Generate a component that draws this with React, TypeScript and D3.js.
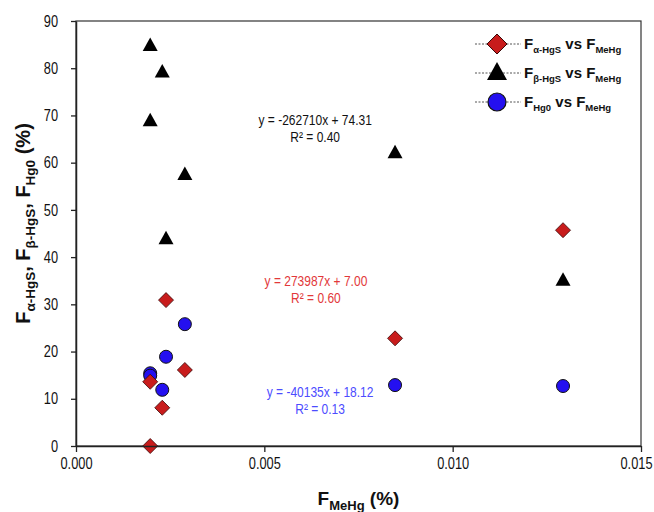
import { useEffect, useRef } from "react";
import * as d3 from "d3";

const WIDTH = 654;
const HEIGHT = 512;
const MARGIN = { top: 21, right: 13, bottom: 66, left: 76 };

// F_MeHg (%) for each sample, shared by all three series
const fMeHg = [0.00197, 0.00197, 0.00229, 0.00239, 0.00289, 0.00847, 0.01293];
const fAlpha = [0, 13.6, 8.1, 30.9, 16.1, 22.8, 45.7];
const fBeta = [84.9, 69.0, 79.3, 44.0, 57.6, 62.2, 35.2];
const fHg0 = [15.4, 14.9, 11.9, 18.9, 25.8, 12.9, 12.7];

// trend line coefficients as printed on the chart
const slopes = [273987, -262710, -40135];
const intercepts = [7.0, 74.31, 18.12];
const eqLabels = ["y = 273987x  + 7.00", "y = -262710x  + 74.31", "y = -40135x  + 18.12"];
const r2Labels = ["R² = 0.60", "R² = 0.40", "R² = 0.13"];

const xTicks = [0, 0.005, 0.01, 0.015];
const yTicks = [0, 10, 20, 30, 40, 50, 60, 70, 80, 90];

const FONT = "'Liberation Sans', Arial, sans-serif";
const SQUEEZE = 0.8; // reference uses a narrow face

const RED = "#c81c1c";
const BLUE = "#2410f0";

const diamond = (cx: number, cy: number, r: number) =>
  `M${cx},${cy - r}L${cx + r},${cy}L${cx},${cy + r}L${cx - r},${cy}Z`;
const triangle = (cx: number, cy: number, w: number) =>
  `M${cx},${cy - w * 0.5}L${cx + w / 2},${cy + w * 0.4}L${cx - w / 2},${cy + w * 0.4}Z`;

const App = () => {
  const axesRef = useRef<SVGGElement>(null);
  const boundsWidth = WIDTH - MARGIN.left - MARGIN.right;
  const boundsHeight = HEIGHT - MARGIN.top - MARGIN.bottom;

  const xScale = d3.scaleLinear().domain([0, 0.015]).range([0, boundsWidth]);
  const yScale = d3.scaleLinear().domain([0, 90]).range([boundsHeight, 0]);

  useEffect(() => {
    const g = d3.select(axesRef.current);
    g.selectAll("*").remove();
    const xg = g
      .append("g")
      .attr("transform", `translate(0,${boundsHeight})`)
      .call(d3.axisBottom(xScale).tickValues(xTicks).tickFormat(d3.format(".3f")).tickSize(6).tickSizeOuter(0).tickPadding(6));
    const yg = g
      .append("g")
      .call(d3.axisLeft(yScale).tickValues(yTicks).tickFormat(d3.format("d")).tickSize(5).tickSizeOuter(0).tickPadding(13));
    g.selectAll("text")
      .style("font-family", FONT)
      .style("font-size", "16px")
      .attr("fill", "#111")
      .attr("transform", `scale(${SQUEEZE},1)`);
    // squeeze moves the x offset of the left labels, put it back
    yg.selectAll("text").attr("x", -18 / SQUEEZE);
    // last label sits at the page edge, nudge it in a little
    xg.selectAll("text").attr("x", (d: any) => (d === 0.015 ? -5 / SQUEEZE : 0));
    g.selectAll("path.domain").attr("stroke", "#222").attr("stroke-width", 1.5);
    g.selectAll(".tick line").attr("stroke", "#222").attr("stroke-width", 1.3);
  }, [xScale, yScale, boundsHeight]);

  const series = [fAlpha, fBeta, fHg0];
  const trendColors = ["#e23838", "#222", "#4c4cff"];
  const xMin = d3.min(fMeHg) ?? 0;
  const xMax = d3.max(fMeHg) ?? 0;

  const eqPos = [
    { x: 0.00637, y: 33.8, color: "#e2383a" },
    { x: 0.00635, y: 68.0, color: "#111" },
    { x: 0.00648, y: 10.3, color: "#4c4cff" },
  ];

  const legendRows = [
    { sub: "α-HgS", kind: "diamond" },
    { sub: "β-HgS", kind: "triangle" },
    { sub: "Hg0", kind: "circle" },
  ];

  return (
    <svg width={WIDTH} height={HEIGHT} style={{ position: "absolute", left: 0, top: 0, background: "#fff" }}>
      <g transform={`translate(${MARGIN.left},${MARGIN.top})`}>
        <rect x={0} y={0} width={boundsWidth} height={boundsHeight} fill="none" stroke="#333" strokeWidth={1.2} />
        {series.map((s, k) => {
          const pts: [number, number][] = [xMin, xMax].map((x) => [xScale(x), yScale(slopes[k] * x + intercepts[k])]);
          return (
            <path
              key={k}
              d={d3.line()(pts) ?? ""}
              stroke={trendColors[k]}
              strokeWidth={1.4}
              strokeDasharray="2,1.5"
              fill="none"
            />
          );
        })}
        {eqPos.map((e, k) => (
          <g key={k} transform={`translate(${xScale(e.x)},${yScale(e.y)}) scale(${SQUEEZE},1)`}>
            <text textAnchor="middle" fill={e.color} style={{ fontFamily: FONT, fontSize: 15 }}>
              <tspan x={0}>{eqLabels[k]}</tspan>
              <tspan x={0} dy={17}>{r2Labels[k]}</tspan>
            </text>
          </g>
        ))}
        {fHg0.map((v, i) => (
          <circle key={`c${i}`} cx={xScale(fMeHg[i])} cy={yScale(v)} r={6.5} fill={BLUE} stroke="#111" strokeWidth={1} />
        ))}
        {fAlpha.map((v, i) => (
          <path key={`d${i}`} d={diamond(xScale(fMeHg[i]), yScale(v), 7.5)} fill={RED} stroke="#3a0808" strokeWidth={0.8} />
        ))}
        {fBeta.map((v, i) => (
          <path key={`t${i}`} d={triangle(xScale(fMeHg[i]), yScale(v), 15)} fill="#000" />
        ))}
      </g>
      <g ref={axesRef} transform={`translate(${MARGIN.left},${MARGIN.top})`} />

      {legendRows.map((r, k) => {
        const y = 44 + k * 29;
        return (
          <g key={k}>
            <line x1={475} x2={521} y1={y} y2={y} stroke="#555" strokeWidth={1} strokeDasharray="2,1.5" />
            {r.kind === "diamond" && <path d={diamond(497, y, 10)} fill={RED} stroke="#3a0808" strokeWidth={1} />}
            {r.kind === "triangle" && <path d={triangle(497, y - 1, 20)} fill="#000" />}
            {r.kind === "circle" && <circle cx={497} cy={y} r={9} fill={BLUE} stroke="#111" strokeWidth={1.2} />}
            <text x={524} y={y + 5} fill="#111" style={{ fontFamily: FONT, fontWeight: "bold", fontSize: 15 }}>
              <tspan>F</tspan>
              <tspan dy={4} style={{ fontSize: 9.5 }}>{r.sub}</tspan>
              <tspan dy={-4}> vs F</tspan>
              <tspan dy={4} style={{ fontSize: 9.5 }}>MeHg</tspan>
            </text>
          </g>
        );
      })}

      <text
        transform={`translate(30,${MARGIN.top + boundsHeight / 2 - 10}) rotate(-90)`}
        textAnchor="middle"
        fill="#111"
        style={{ fontFamily: FONT, fontWeight: "bold", fontSize: 20 }}
      >
        <tspan>F</tspan>
        <tspan dy={5} style={{ fontSize: 13.5 }}>α-HgS</tspan>
        <tspan dy={-5}>, F</tspan>
        <tspan dy={5} style={{ fontSize: 13.5 }}>β-HgS</tspan>
        <tspan dy={-5}>, F</tspan>
        <tspan dy={5} style={{ fontSize: 13.5 }}>Hg0</tspan>
        <tspan dy={-5}> (%)</tspan>
      </text>
      <text
        x={MARGIN.left + boundsWidth / 2}
        y={505}
        textAnchor="middle"
        fill="#111"
        style={{ fontFamily: FONT, fontWeight: "bold", fontSize: 19 }}
      >
        <tspan>F</tspan>
        <tspan dy={5} style={{ fontSize: 13 }}>MeHg</tspan>
        <tspan dy={-5}> (%)</tspan>
      </text>
    </svg>
  );
};

export default App;
